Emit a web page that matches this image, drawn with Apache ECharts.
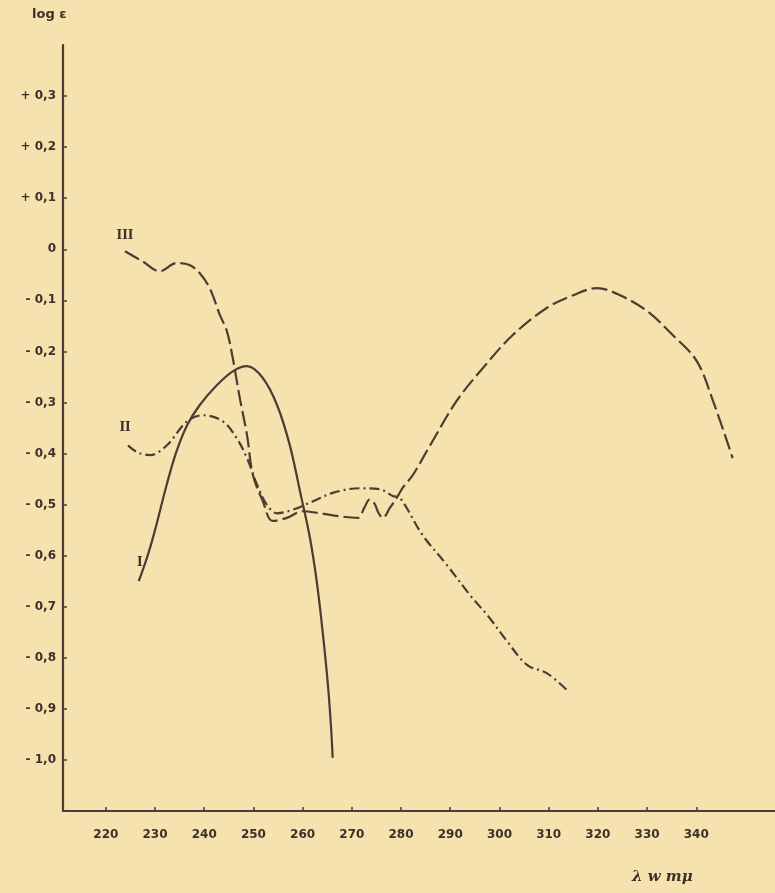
<!DOCTYPE html>
<html>
<head>
<meta charset="utf-8">
<script src="https://cdn.jsdelivr.net/npm/echarts@6/dist/echarts.min.js"></script>
<style>
html,body{margin:0;padding:0;background:#f6e2ae;}
#chart{width:775px;height:893px;}
</style>
</head>
<body>
<div id="chart"></div>
<script>
// ---- data ----
var xTicks = [220, 230, 240, 250, 260, 270, 280, 290, 300, 310, 320, 330, 340];
var yTicks = [-1.0, -0.9, -0.8, -0.7, -0.6, -0.5, -0.4, -0.3, -0.2, -0.1, 0, 0.1, 0.2, 0.3];

var x1 = [226.7, 228.5, 230, 232.4, 234.4, 236.5, 239.1, 242.6, 245.8, 248.7, 251.9, 254.8, 257.4, 259.6, 261.5, 263, 264.3, 265.2, 265.8, 266.1];
var y1 = [-0.65, -0.60, -0.55, -0.46, -0.395, -0.345, -0.305, -0.266, -0.239, -0.229, -0.252, -0.305, -0.384, -0.48, -0.566, -0.66, -0.77, -0.86, -0.94, -0.996];

var x2 = [224.5, 226.5, 229, 232.4, 236.5, 239.7, 243.8, 246.6, 248.7, 250.7, 252.7, 254.8, 258, 262, 266.1, 271.6, 275.7, 278.3, 279.8, 284.4, 289.3, 294, 298, 301.5, 305.6, 309.6, 313.7];
var y2 = [-0.384, -0.398, -0.403, -0.384, -0.337, -0.325, -0.337, -0.37, -0.409, -0.46, -0.50, -0.517, -0.51, -0.494, -0.477, -0.468, -0.47, -0.483, -0.487, -0.56, -0.618, -0.677, -0.722, -0.767, -0.814, -0.83, -0.863];

var x3 = [223.9, 227.5, 231, 234.4, 237, 239.1, 241.1, 243.2, 244.6, 245.8, 247.2, 248.7, 249.9, 251.9, 253.9, 256.8, 260, 263.5, 267.6, 271.2, 272.6, 273.6, 274.6, 275.4, 276.3, 277.7, 279.1, 280.5, 282.4, 285.9, 291.3, 296.6, 302.7, 309.6, 315, 319.8, 324.5, 330, 335.2, 340.1, 343.4, 347.4];
var y3 = [-0.004, -0.024, -0.043, -0.027, -0.031, -0.047, -0.076, -0.129, -0.16, -0.213, -0.29, -0.364, -0.442, -0.493, -0.532, -0.526, -0.513, -0.517, -0.523, -0.526, -0.505, -0.49, -0.498, -0.516, -0.526, -0.507, -0.487, -0.465, -0.442, -0.384, -0.297, -0.233, -0.168, -0.115, -0.09, -0.076, -0.09, -0.121, -0.168, -0.219, -0.297, -0.409];

var seriesNames = ['I', 'II', 'III'];
var labelPos = [[226.9, -0.615], [223.9, -0.35], [223.9, 0.027]];

function pairs(xs, ys) { return xs.map(function (x, i) { return [x, ys[i]]; }); }

var ink = '#4a3d33';
var txt = '#3d3028';
var font = 'DejaVu Sans';

function yFmt(v) {
  var r = Math.round(v * 10) / 10;
  if (Math.abs(r) < 1e-9) return '0';
  var s = Math.abs(r).toFixed(1).replace('.', ',');
  return (r > 0 ? '+ ' : '- ') + s;
}

function mk(name, data, dash, idx) {
  return {
    name: name, type: 'line', data: data, smooth: 0.35, showSymbol: false,
    lineStyle: { color: ink, width: 2.2, type: dash },
    markPoint: {
      symbol: 'circle', symbolSize: 0, silent: true,
      data: [{ coord: labelPos[idx] }],
      label: { show: true, position: 'inside', formatter: name, color: txt,
        fontFamily: 'DejaVu Serif', fontWeight: 'bold', fontSize: 12 }
    },
    animation: false
  };
}

var chart = echarts.init(document.getElementById('chart'));
chart.setOption({
  backgroundColor: '#f6e2ae',
  animation: false,
  grid: { left: 63, top: 45, right: 0, bottom: 82, containLabel: false },
  xAxis: {
    type: 'value', min: 211.3, max: 356,
    axisLine: { show: true, onZero: false, lineStyle: { color: ink, width: 2.2 } },
    axisTick: { show: true, inside: true, length: 4, customValues: xTicks, lineStyle: { color: ink, width: 1.5 } },
    axisLabel: { customValues: xTicks, color: txt, fontFamily: font, fontWeight: 'bold', fontSize: 12, margin: 18 },
    splitLine: { show: false }
  },
  yAxis: {
    type: 'value', min: -1.1, max: 0.4,
    axisLine: { show: true, onZero: false, lineStyle: { color: ink, width: 2.2 } },
    axisTick: { show: true, inside: true, length: 4, customValues: yTicks, lineStyle: { color: ink, width: 1.5 } },
    axisLabel: { customValues: yTicks, formatter: yFmt, color: txt, fontFamily: font, fontWeight: 'bold', fontSize: 12, margin: 7 },
    splitLine: { show: false }
  },
  graphic: [
    { type: 'text', left: 32, top: 8, style: { text: 'log ε', fill: txt, font: 'bold 13px DejaVu Sans' } },
    { type: 'text', left: 632, top: 870, style: { text: 'λ w mμ', fill: txt, font: 'italic bold 15px DejaVu Serif' } }
  ],
  series: [
    mk(seriesNames[0], pairs(x1, y1), 'solid', 0),
    mk(seriesNames[1], pairs(x2, y2), [10, 4, 2, 4], 1),
    mk(seriesNames[2], pairs(x3, y3), [16, 5], 2)
  ]
});
</script>
</body>
</html>
